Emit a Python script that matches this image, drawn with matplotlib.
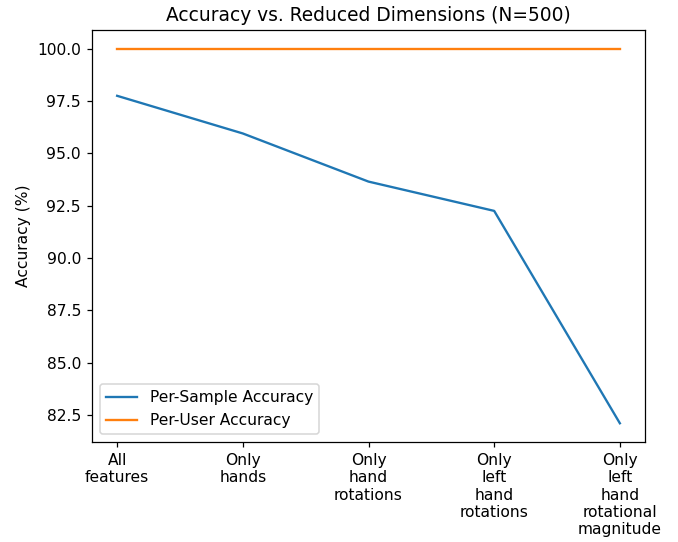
import matplotlib

matplotlib.use("Agg")
import matplotlib.pyplot as plt

# Data
categories = [
    "All\nfeatures",
    "Only\nhands",
    "Only\nhand\nrotations",
    "Only\nleft\nhand\nrotations",
    "Only\nleft\nhand\nrotational\nmagnitude",
]
per_sample = [97.75, 95.95, 93.65, 92.25, 82.1]
per_user = [100.0, 100.0, 100.0, 100.0, 100.0]

DPI = 112
fig = plt.figure(figsize=(678 / DPI, 542 / DPI), dpi=DPI)
ax = fig.add_axes([92 / 678, 1 - 442 / 542, 553 / 678, 412 / 542])

x = list(range(len(categories)))
ax.plot(x, per_sample, color="tab:blue", label="Per-Sample Accuracy")
ax.plot(x, per_user, color="tab:orange", label="Per-User Accuracy")

ax.set_xticks(x)
ax.set_xticklabels(categories)
ax.set_ylabel("Accuracy (%)")
ax.set_title("Accuracy vs. Reduced Dimensions (N=500)")
ax.legend(loc="lower left")

fig.savefig("out.png", dpi=DPI)
